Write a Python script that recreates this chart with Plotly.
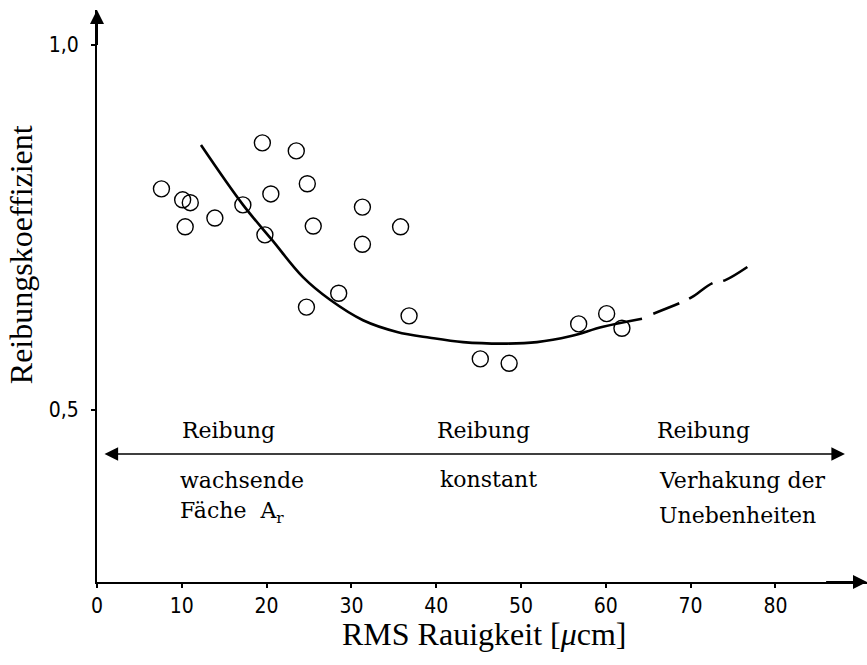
import plotly.graph_objects as go

# Measured points (RMS roughness, friction coefficient)
rough = [19.5, 23.5, 7.6, 10.1, 11.0, 13.9, 10.4, 17.2, 20.5, 24.8, 19.8, 25.5,
         31.3, 35.8, 31.3, 28.5, 24.7, 36.8, 45.2, 48.6, 56.8, 60.1, 61.9]
mu = [0.866, 0.855, 0.803, 0.788, 0.784, 0.763, 0.751, 0.781, 0.796, 0.810, 0.740, 0.752,
      0.778, 0.751, 0.727, 0.660, 0.641, 0.629, 0.570, 0.564, 0.618, 0.632, 0.612]

# Trend curve (solid part) and its dashed extension
trend_x = [12.26, 17.22, 20.64, 24.29, 27.48, 31.37, 35.38, 39.27, 43.16, 48.35,
           51.89, 55.78, 59.67, 64.27]
trend_y = [0.863, 0.781, 0.733, 0.682, 0.651, 0.623, 0.607, 0.599, 0.593, 0.591,
           0.593, 0.601, 0.614, 0.625]
ext_x = [65.6, 69.2, 70.2, 72.6, 74.1, 77.7]
ext_y = [0.632, 0.649, 0.655, 0.674, 0.678, 0.704]

x_ticks = [0, 10, 20, 30, 40, 50, 60, 70, 80]
y_ticks = [0.5, 1.0]
y_ticktext = ["0,5", "1,0"]

X_MAX = 90.8
Y_MIN, Y_MAX = 0.2644, 1.048
REGION_Y = 0.4397

SERIF = "DejaVu Serif, Liberation Serif, serif"
TITLE_FONT = "Liberation Serif, Times New Roman, serif"
TICK_FONT = "Liberation Sans Narrow, DejaVu Sans Condensed, Arial Narrow, sans-serif"

fig = go.Figure()
fig.add_trace(go.Scatter(x=trend_x, y=trend_y, mode="lines",
                         line=dict(color="black", width=2.6, shape="spline"),
                         hoverinfo="skip"))
fig.add_trace(go.Scatter(x=ext_x, y=ext_y, mode="lines",
                         line=dict(color="black", width=2.6, shape="spline", dash="28px,11px"),
                         hoverinfo="skip"))
fig.add_trace(go.Scatter(x=rough, y=mu, mode="markers",
                         marker=dict(symbol="circle-open", size=16, color="black",
                                     line=dict(color="black", width=1.4))))

ann = []
# axis arrowheads
ann.append(dict(x=0, y=Y_MAX, ax=0, ay=Y_MAX - 0.05, xref="x", yref="y", axref="x", ayref="y",
                showarrow=True, arrowhead=2, arrowsize=1.4, arrowwidth=2, arrowcolor="black", text=""))
ann.append(dict(x=X_MAX, y=Y_MIN, ax=X_MAX - 5, ay=Y_MIN, xref="x", yref="y", axref="x", ayref="y",
                showarrow=True, arrowhead=2, arrowsize=1.4, arrowwidth=2, arrowcolor="black", text=""))
# region arrow
ann.append(dict(x=88.2, y=REGION_Y, ax=0.71, ay=REGION_Y, xref="x", yref="y", axref="x", ayref="y",
                showarrow=True, arrowhead=2, startarrowhead=2, arrowside="end+start",
                arrowsize=1.7, startarrowsize=1.7, arrowwidth=1.6, arrowcolor="black", text=""))

texts = [
    ("Reibung", 9.79, 0.4726),
    ("wachsende", 9.55, 0.404),
    ("Fäche\u00a0\u00a0A<sub>r</sub>", 9.55, 0.360),
    ("Reibung", 39.86, 0.4726),
    ("konstant", 40.2, 0.4055),
    ("Reibung", 65.8, 0.4726),
    ("Verhakung der", 66.0, 0.404),
    ("Unebenheiten", 66.0, 0.356),
]
for t, x, y in texts:
    ann.append(dict(x=x, y=y, xref="x", yref="y", text=t, showarrow=False,
                    xanchor="left", yanchor="middle",
                    font=dict(family=SERIF, size=22, color="black")))

# axis titles
ann.append(dict(x=-0.0995, y=0.572, xref="paper", yref="paper", text="Reibungskoeffizient",
                textangle=-90, showarrow=False, xanchor="center", yanchor="middle",
                font=dict(family=TITLE_FONT, size=32, color="black")))
ann.append(dict(x=0.503, y=-0.091, xref="paper", yref="paper", text="RMS Rauigkeit [<i>μ</i>cm]",
                showarrow=False, xanchor="center", yanchor="middle",
                font=dict(family=TITLE_FONT, size=32, color="black")))

fig.update_layout(
    width=867, height=665,
    margin=dict(l=97, r=0, t=10, b=83),
    paper_bgcolor="white", plot_bgcolor="white",
    showlegend=False,
    annotations=ann,
    xaxis=dict(range=[0, X_MAX], showgrid=False, zeroline=False,
               showline=True, linecolor="black", linewidth=2,
               tickmode="array", tickvals=x_ticks, ticks="outside", ticklen=4,
               tickcolor="black", tickwidth=1.5, ticklabelstandoff=0,
               tickfont=dict(family=TICK_FONT, size=21, color="black")),
    yaxis=dict(range=[Y_MIN, Y_MAX], showgrid=False, zeroline=False,
               showline=True, linecolor="black", linewidth=2,
               tickmode="array", tickvals=y_ticks, ticktext=y_ticktext,
               ticks="outside", ticklen=4, tickcolor="black", tickwidth=2,
               ticklabelstandoff=8,
               tickfont=dict(family=TICK_FONT, size=21, color="black")),
)

fig.write_html("out.html", config={"displayModeBar": False},
               post_script="document.body.style.margin='0px';")
